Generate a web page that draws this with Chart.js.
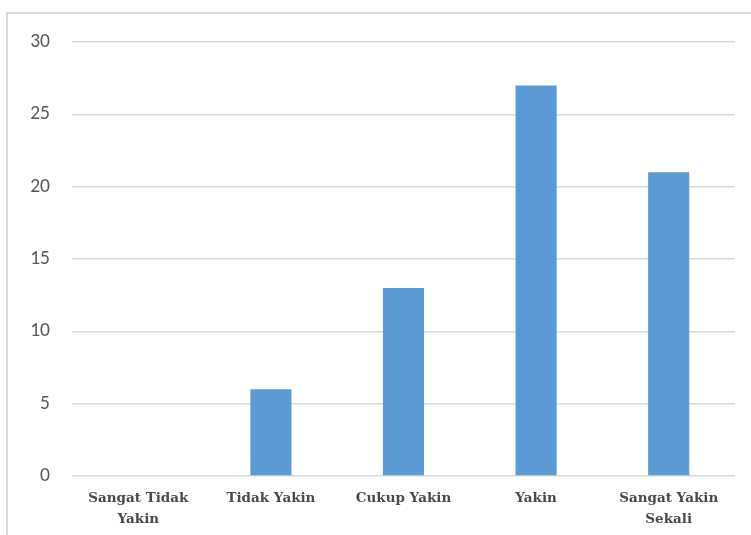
<!DOCTYPE html>
<html>
<head>
<meta charset="utf-8">
<script src="https://cdn.jsdelivr.net/npm/chart.js@4"></script>
<style>
  html, body { margin: 0; padding: 0; background: #fff; overflow: hidden; }
  #wrap { position: relative; width: 751px; height: 535px; }
  #frame { position: absolute; left: 6px; top: 12px; width: 760px; height: 540px;
           border: 2px solid #d9d9d9; box-sizing: border-box; }
  canvas { position: absolute; left: 0; top: 0; }
</style>
</head>
<body>
<div id="wrap">
  <div id="frame"></div>
  <canvas id="myChart" width="751" height="535"></canvas>
</div>
<script>
// kategori dan nilai
const categories = [["Sangat Tidak", "Yakin"], "Tidak Yakin", "Cukup Yakin", "Yakin", ["Sangat Yakin", "Sekali"]];
const values = [0, 6, 13, 27, 21];
const yTicks = [0, 5, 10, 15, 20, 25, 30];

const ctx = document.getElementById("myChart").getContext("2d");
new Chart(ctx, {
  type: "bar",
  data: {
    labels: categories,
    datasets: [
      {
        data: values,
        backgroundColor: "#5b9bd5",
        categoryPercentage: 1,
        barPercentage: 0.31,
      },
    ],
  },
  options: {
    responsive: false,
    animation: false,
    layout: { padding: { top: 42, right: 16, left: 0, bottom: 0 } },
    plugins: { legend: { display: false }, tooltip: { enabled: false } },
    scales: {
      x: {
        grid: { display: false },
        border: { display: false },
        ticks: {
          color: "#4a4a4a",
          padding: 4,
          maxRotation: 0,
          font: { family: "'DejaVu Serif', serif", weight: "bold", size: 13.5, lineHeight: 1.55 },
        },
        afterFit: (scale) => { scale.height = 59; },
      },
      y: {
        min: 0,
        max: 30,
        afterBuildTicks: (scale) => { scale.ticks = yTicks.map((v) => ({ value: v })); },
        grid: { color: "#d9d9d9", lineWidth: 1.5, drawTicks: false },
        border: { display: false },
        ticks: {
          color: "#595959",
          padding: 22,
          font: { family: "Carlito, 'Open Sans', 'Noto Sans', sans-serif", size: 19.5 },
        },
        afterFit: (scale) => { scale.width = 72; },
      },
    },
  },
});
</script>
</body>
</html>
